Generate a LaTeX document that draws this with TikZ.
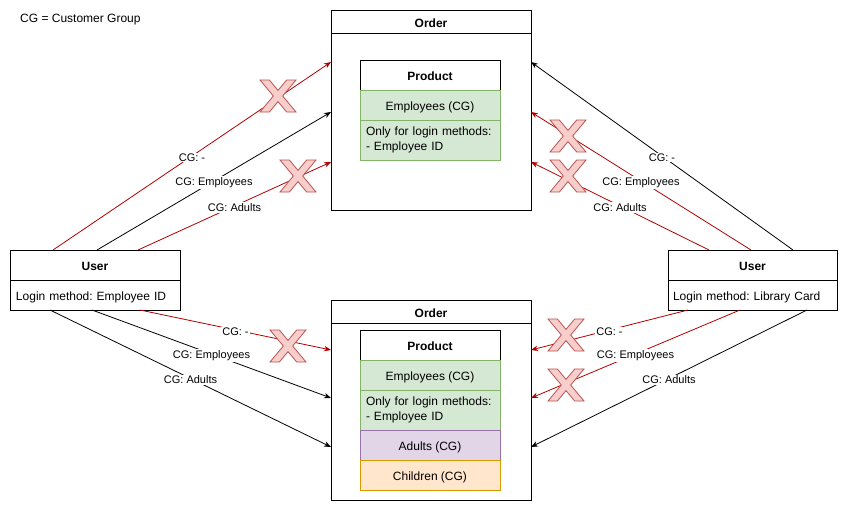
\documentclass[tikz,border=0pt]{standalone}
\usepackage{fontspec}
\setmainfont{Liberation Sans}
\frenchspacing
\usetikzlibrary{arrows.meta,calc}
\definecolor{redline}{HTML}{B20000}
\definecolor{gfill}{HTML}{D5E8D4}
\definecolor{gstroke}{HTML}{82B366}
\definecolor{pfill}{HTML}{E1D5E7}
\definecolor{pstroke}{HTML}{9673A6}
\definecolor{ofill}{HTML}{FFE6CC}
\definecolor{ostroke}{HTML}{D79B00}
\definecolor{xfill}{HTML}{F8CECC}
\definecolor{xstroke}{HTML}{B85450}
\tikzset{
  basebox/.style={draw=black, line width=0.9pt, inner sep=0pt, outer sep=0pt, font=\fontsize{12}{14.5}\selectfont},
  oneline/.style={text height=11.8pt, text depth=0.4pt},
  containerbox/.style={basebox, minimum width=200pt, minimum height=200pt},
  hdrbox/.style={basebox, oneline, font=\fontsize{12}{14.5}\selectfont\bfseries, anchor=north},
  greenrow/.style={basebox, fill=gfill, draw=gstroke, minimum width=140pt, anchor=north},
  purplerow/.style={basebox, oneline, fill=pfill, draw=pstroke, minimum width=140pt, minimum height=30pt, anchor=north},
  orangerow/.style={basebox, oneline, fill=ofill, draw=ostroke, minimum width=140pt, minimum height=30pt, anchor=north},
  userbody/.style={basebox, oneline, minimum width=170pt, minimum height=30pt, anchor=north, align=left},
  okline/.style={draw=black, line width=0.8pt, -{Stealth[length=7pt,width=5.5pt]}},
  badline/.style={draw=redline, line width=0.8pt, -{Stealth[length=7pt,width=5.5pt]}},
  lbl/.style={fill=white, inner sep=1pt, yshift=-1.5pt, font=\fontsize{11}{13}\selectfont},
  pics/xcross/.style={code={
    \filldraw[fill=xfill, draw=xstroke, line width=0.8pt]
      (-18,-16) -- (-8.64,-16) -- (0,-5.6) -- (8.64,-16) -- (18,-16) -- (4.68,0)
      -- (18,16) -- (8.64,16) -- (0,5.6) -- (-8.64,16) -- (-18,16) -- (-4.68,0) -- cycle;
  }}
}
\begin{document}
\begin{tikzpicture}[x=1pt,y=-1pt]
\useasboundingbox (0,0) rectangle (848,511);
\fill[white] (0,0) rectangle (848,511);

\node[anchor=west, inner sep=0pt, font=\fontsize{12}{14.5}\selectfont] (legend) at (20,20) {CG = Customer Group};

% top order
\node[containerbox] (oT) at (431,110) {};
\node[hdrbox, minimum width=200pt, minimum height=23pt] (oTh) at (oT.north) {Order};
\node[hdrbox, minimum width=140pt, minimum height=30pt] (pT) at (430,60) {Product};
\node[greenrow, oneline, minimum height=30pt] (pTe) at (pT.south) {Employees (CG)};
\node[greenrow, minimum height=40pt, text width=128pt, align=left] (pTo) at (pTe.south) {Only for login methods:\\- Employee ID};

% bottom order
\node[containerbox] (oB) at (431,400) {};
\node[hdrbox, minimum width=200pt, minimum height=23pt] (oBh) at (oB.north) {Order};
\node[hdrbox, minimum width=140pt, minimum height=30pt] (pB) at (430,330) {Product};
\node[greenrow, oneline, minimum height=30pt] (pBe) at (pB.south) {Employees (CG)};
\node[greenrow, minimum height=40pt, text width=128pt, align=left] (pBo) at (pBe.south) {Only for login methods:\\- Employee ID};
\node[purplerow] (pBa) at (pBo.south) {Adults (CG)};
\node[orangerow] (pBc) at (pBa.south) {Children (CG)};

% users
\node[hdrbox, minimum width=170pt, minimum height=30pt] (uLh) at (95,250) {User};
\node[userbody, text width=158pt] (uLb) at (uLh.south) {Login method: Employee ID};
\node[hdrbox, minimum width=169pt, minimum height=30pt] (uRh) at (752.5,250) {User};
\node[userbody, minimum width=169pt, text width=159pt] (uRb) at (uRh.south) {Login method: Library Card};

% top-left connectors
\draw[badline] ($(uLh.north west)+(43,0)$) -- node[lbl]{CG: -} ($(oT.north west)+(0,52)$);
\draw[okline] ($(uLh.north west)+(87,0)$) -- node[lbl]{CG: Employees} ($(oT.north west)+(0,102)$);
\draw[badline] ($(uLh.north west)+(128,0)$) -- node[lbl]{CG: Adults} ($(oT.north west)+(0,152)$);

% top-right connectors
\draw[okline] ($(uRh.north west)+(125,0)$) -- node[lbl]{CG: -} ($(oT.north east)+(0,52)$);
\draw[badline] ($(uRh.north west)+(83,0)$) -- node[lbl]{CG: Employees} ($(oT.north east)+(0,102)$);
\draw[badline] ($(uRh.north west)+(41,0)$) -- node[lbl]{CG: Adults} ($(oT.north east)+(0,152)$);

% bottom-left connectors
\draw[badline] ($(uLb.south west)+(130,0)$) -- node[lbl]{CG: -} ($(oB.north west)+(0,50)$);
\draw[okline] ($(uLb.south west)+(82,0)$) -- node[lbl]{CG: Employees} ($(oB.north west)+(0,98)$);
\draw[okline] ($(uLb.south west)+(40,0)$) -- node[lbl]{CG: Adults} ($(oB.north west)+(0,147)$);

% bottom-right connectors
\draw[badline] ($(uRb.south west)+(20,0)$) -- node[lbl]{CG: -} ($(oB.north east)+(0,50)$);
\draw[badline] ($(uRb.south west)+(72,0)$) -- node[lbl]{CG: Employees} ($(oB.north east)+(0,98)$);
\draw[okline] ($(uRb.south west)+(139,0)$) -- node[lbl]{CG: Adults} ($(oB.north east)+(0,147)$);

% crosses
\pic at (278,96) {xcross};
\pic at (298,176) {xcross};
\pic at (568,136) {xcross};
\pic at (568,176) {xcross};
\pic at (288,346) {xcross};
\pic at (566,335) {xcross};
\pic at (566,385) {xcross};
\end{tikzpicture}
\end{document}
